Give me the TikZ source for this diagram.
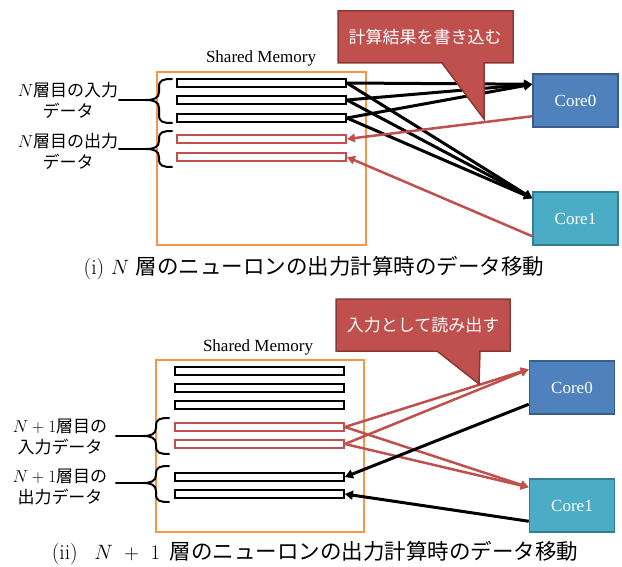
\documentclass[tikz,border=0pt]{standalone}
\usepackage{fontspec}
\newfontfamily\jp{Noto Sans CJK JP}
\newfontfamily\tnr{Liberation Serif}
\usetikzlibrary{arrows.meta}

\definecolor{calloutred}{HTML}{C0504D}
\definecolor{calloutedge}{HTML}{8C3836}
\definecolor{coreblue}{HTML}{4F81BD}
\definecolor{coreblueedge}{HTML}{385D8A}
\definecolor{coreteal}{HTML}{4BACC6}
\definecolor{coretealedge}{HTML}{357D91}
\definecolor{memorange}{HTML}{F79646}
\definecolor{writered}{HTML}{C0504D}

% left curly brace with a tail: #1 tip x, #2 top y, #3 tip y, #4 bottom y
\newcommand\curlybrace[4]{%
  \draw[bracestroke]
    (#1+26,#2) .. controls (#1+17,#2) and (#1+13,#2+1) .. (#1+13,#2+8)
    -- (#1+13,#3-8) .. controls (#1+13,#3-2) and (#1+8,#3) .. (#1,#3)
    .. controls (#1+8,#3) and (#1+13,#3+2) .. (#1+13,#3+8)
    -- (#1+13,#4-8) .. controls (#1+13,#4-1) and (#1+17,#4) .. (#1+26,#4);
  \draw[bracestroke] (#1-27,#3) -- (#1,#3);
}

\begin{document}
\begin{tikzpicture}[x=1pt,y=-1pt,
  membox/.style={draw=memorange, line width=2pt},
  bar/.style={draw=black, line width=1.8pt, minimum width=169pt,
    minimum height=8pt, inner sep=0pt},
  outbar/.style={bar, draw=writered},
  bracestroke/.style={line width=2pt, line cap=round},
  memlabel/.style={font=\tnr\fontsize{17}{20}\selectfont, anchor=base},
  datalabel/.style={align=center, font=\jp\fontsize{17}{21}\selectfont},
  core/.style={minimum width=85pt, minimum height=53pt, inner sep=0pt,
    line width=1.5pt, text=white, font=\tnr\fontsize{17}{20}\selectfont},
  core0/.style={core, fill=coreblue, draw=coreblueedge},
  core1/.style={core, fill=coreteal, draw=coretealedge},
  callout/.style={fill=calloutred, draw=calloutedge, line width=1.5pt, line join=miter},
  callouttext/.style={text=white, font=\jp\fontsize{17}{20}\selectfont},
  rdarrow/.style={-{Triangle[length=8pt,width=9pt]}, line width=3pt, draw=black},
  wrarrow/.style={-{Triangle[length=8pt,width=8.5pt]}, line width=2.5pt, draw=writered},
  caption/.style={font=\fontsize{21.5}{25}\selectfont}
]
\useasboundingbox (0,0) rectangle (622,567);

%%%%%%%%%%%%%%%% (i) layer N %%%%%%%%%%%%%%%%
\draw[membox] (157,72) rectangle (366,245);
\node[memlabel] (smA) at (261,63) {Shared Memory};

\node[bar] (a1) at (261.5,83) {};
\node[bar] (a2) at (261.5,100) {};
\node[bar] (a3) at (261.5,118) {};
\node[outbar] (a4) at (261.5,139) {};
\node[outbar] (a5) at (261.5,157) {};

\curlybrace{146}{79}{100}{123}
\curlybrace{146}{131}{149}{167}
\node[datalabel] (inA) at (68,100) {$N$層目の入力\\データ};
\node[datalabel] (outA) at (68,151) {$N$層目の出力\\データ};

\node[core0] (c0A) at (575.5,100.5) {Core0};
\node[core1] (c1A) at (575.5,218.5) {Core1};

\foreach \b in {a1,a2,a3} {
  \draw[rdarrow] (\b.east) -- ([yshift=-11pt]c0A.north west);
  \draw[rdarrow] (\b.east) -- ([yshift=-7pt]c1A.north west);
}
\draw[wrarrow] ([yshift=-43pt]c0A.north west) -- (a4.east);
\draw[wrarrow] ([yshift=-45pt]c1A.north west) -- (a5.east);

% speech balloon drawn over the arrows
\draw[callout] (338,11) -- (513,11) -- (513,63) -- (484,63) -- (484,119)
  -- (442,63) -- (338,63) -- cycle;
\node[callouttext] (writeA) at (425,37) {計算結果を書き込む};

\node[caption] (capA) at (314,268) {(i) $N$ {\jp 層のニューロンの出力計算時のデータ移動}};

%%%%%%%%%%%%%%%% (ii) layer N+1 %%%%%%%%%%%%%%%%
\draw[membox] (156,360) rectangle (364,532);
\node[memlabel] (smB) at (258,351) {Shared Memory};

\node[bar] (b1) at (259.5,371) {};
\node[bar] (b2) at (259.5,388) {};
\node[bar] (b3) at (259.5,405) {};
\node[outbar] (b4) at (259.5,427) {};
\node[outbar] (b5) at (259.5,444) {};
\node[bar] (b6) at (259.5,477) {};
\node[bar] (b7) at (259.5,494) {};

\curlybrace{143}{418}{436}{454}
\curlybrace{143}{466}{483}{502}
\node[datalabel] (inB) at (60,437) {$N+1$層目の\\入力データ};
\node[datalabel] (outB) at (60,487) {$N+1$層目の\\出力データ};

\node[core0] (c0B) at (572,387.5) {Core0};
\node[core1] (c1B) at (572,505.5) {Core1};

\foreach \b in {b4,b5} {
  \draw[wrarrow] (\b.east) -- ([yshift=-9pt]c0B.north west);
  \draw[wrarrow] (\b.east) -- ([yshift=-9pt]c1B.north west);
}
\draw[rdarrow] ([yshift=-44pt]c0B.north west) -- (b6.east);
\draw[rdarrow] ([yshift=-43pt]c1B.north west) -- (b7.east);

\draw[callout] (336,299) -- (510,299) -- (510,351) -- (480,351) -- (479,384)
  -- (437,351) -- (336,351) -- cycle;
\node[callouttext] (readB) at (423,325) {入力として読み出す};

\node[caption] (capB) at (315,553) {(ii)\hspace{10pt} $N\mskip6mu+\mskip6mu1$\hspace{3pt} {\jp 層のニューロンの出力計算時のデータ移動}};
\end{tikzpicture}
\end{document}
